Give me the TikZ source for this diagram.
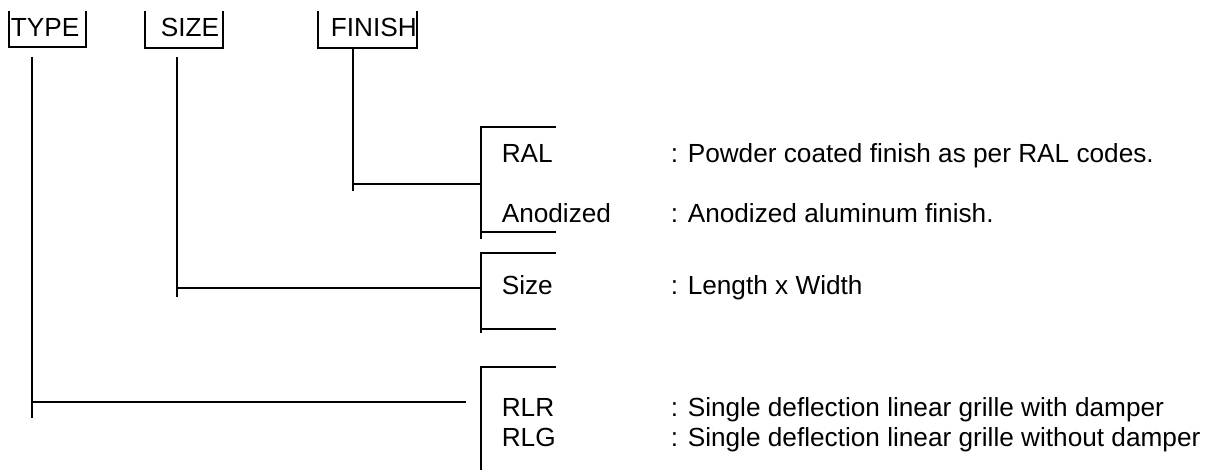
\documentclass[tikz,border=0pt]{standalone}
\usepackage{fontspec}
\setmainfont{Liberation Sans}
\usetikzlibrary{positioning}

\begin{document}
\begin{tikzpicture}[
        x=0.5pt, y=-0.5pt,
        line width=0.8pt,
        tnode/.style={anchor=base west, inner sep=0pt, font=\fontsize{13.1}{15}\selectfont},
        bar/.style={line width=0.8pt}
    ]
    \useasboundingbox (0,0) rectangle (1212,470);

    % code fields
    \node[tnode] (type) at (10,37) {TYPE};
    \node[tnode] (size) at (160,37) {SIZE};
    \node[tnode] (finish) at (330,37) {FINISH};
    \draw[bar] (9,11) -- (9,47) -- (86,47) -- (86,11);
    \draw[bar] (145,11) -- (145,48) -- (223,48) -- (223,11);
    \draw[bar] (318,11) -- (318,48) -- (417,48) -- (417,11);

    % options
    \node[tnode] (ral) at (501,163) {RAL};
    \node[tnode] (anod) at (501,223) {Anodized};
    \node[tnode] (sz) at (501,295) {Size};
    \node[tnode] (rlr) at (501,417) {RLR};
    \node[tnode] (rlg) at (501,447) {RLG};

    \node[tnode] (ral-d) at (670,163) {: Powder coated finish as per RAL codes.};
    \node[tnode] (anod-d) at (670,223) {: Anodized aluminum finish.};
    \node[tnode] (sz-d) at (670,295) {: Length x Width};
    \node[tnode] (rlr-d) at (670,417) {: Single deflection linear grille with damper};
    \node[tnode] (rlg-d) at (670,447) {: Single deflection linear grille without damper};

    % option brackets
    \coordinate (fin-a) at (481,127);
    \coordinate (fin-b) at (481,239);
    \coordinate (siz-a) at (481,253);
    \coordinate (siz-b) at (481,333);
    \coordinate (typ-a) at (481,367);
    \coordinate (typ-b) at (481,472);
    \draw[bar] (556,127) -- (fin-a) -- (fin-b);
    \draw[bar] (fin-a |- 0,232) -- (556,232);
    \draw[bar] (556,253) -- (siz-a) -- (siz-b);
    \draw[bar] (siz-a |- 0,329) -- (556,329);
    \draw[bar] (556,367) -- (typ-a) -- (typ-b);

    % connectors
    \coordinate (fin-top) at (353,48);
    \coordinate (fin-end) at (353,191);
    \coordinate (siz-top) at (177,57);
    \coordinate (siz-end) at (177,297);
    \coordinate (typ-top) at (32,57);
    \coordinate (typ-end) at (32,418);
    \coordinate (typ-hit) at (466,402);

    \draw[bar] (fin-top) -- (fin-end);
    \draw[bar] (fin-top |- 0,184) -- (fin-a |- 0,184);
    \draw[bar] (siz-top) -- (siz-end);
    \draw[bar] (siz-top |- 0,288) -- (siz-a |- 0,288);
    \draw[bar] (typ-top) -- (typ-end);
    \draw[bar] (typ-top |- typ-hit) -- (typ-hit);
\end{tikzpicture}
\end{document}
